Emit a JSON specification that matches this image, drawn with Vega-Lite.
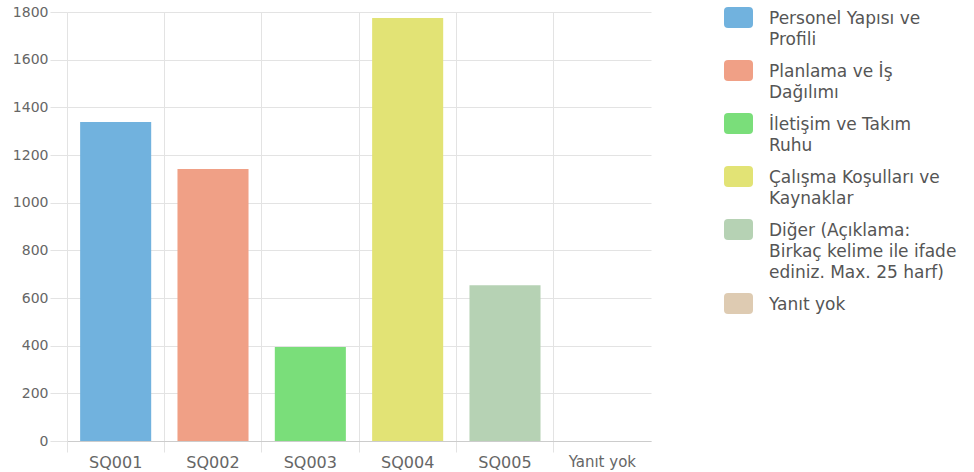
{
  "$schema": "https://vega.github.io/schema/vega-lite/v6.json",
  "width": 584,
  "height": 429,
  "autosize": "none",
  "padding": {"left": 67, "top": 12, "right": 323, "bottom": 31},
  "background": "white",
  "data": {
    "values": [
      {"code": "SQ001", "label": "Personel Yapısı ve Profili", "count": 1338},
      {"code": "SQ002", "label": "Planlama ve İş Dağılımı", "count": 1141},
      {"code": "SQ003", "label": "İletişim ve Takım Ruhu", "count": 394},
      {"code": "SQ004", "label": "Çalışma Koşulları ve Kaynaklar", "count": 1775},
      {"code": "SQ005", "label": "Diğer (Açıklama: Birkaç kelime ile ifade ediniz. Max. 25 harf)", "count": 654},
      {"code": "Yanıt yok", "label": "Yanıt yok", "count": 0}
    ]
  },
  "config": {
    "view": {"stroke": null},
    "font": "DejaVu Sans"
  },
  "mark": {"type": "bar", "width": {"band": 0.73}, "opacity": 1},
  "encoding": {
    "x": {
      "field": "code",
      "type": "nominal",
      "sort": null,
      "scale": {"paddingInner": 0, "paddingOuter": 0},
      "axis": {
        "title": null,
        "labelAngle": 0,
        "bandPosition": 0,
        "labelBandPosition": 0.5,
        "grid": true,
        "gridColor": "#e3e3e3",
        "gridWidth": 1,
        "domainColor": "#cccccc",
        "tickColor": "#e3e3e3",
        "tickSize": 11,
        "labelPadding": 2,
        "labelColor": "#666666",
        "labelFont": "DejaVu Sans",
        "labelFontSize": {"expr": "datum.value == 'Yanıt yok' ? 15 : 16"}
      }
    },
    "y": {
      "field": "count",
      "type": "quantitative",
      "scale": {"domain": [0, 1800], "nice": false},
      "axis": {
        "title": null,
        "format": "d",
        "values": [0, 200, 400, 600, 800, 1000, 1200, 1400, 1600, 1800],
        "domain": false,
        "grid": true,
        "gridColor": "#e3e3e3",
        "tickColor": "#e3e3e3",
        "tickSize": 17,
        "labelPadding": 2,
        "labelColor": "#666666",
        "labelFont": "DejaVu Sans",
        "labelFontSize": 14
      }
    },
    "color": {
      "field": "label",
      "type": "nominal",
      "scale": {
        "domain": ["Personel Yapısı ve Profili", "Planlama ve İş Dağılımı", "İletişim ve Takım Ruhu", "Çalışma Koşulları ve Kaynaklar", "Diğer (Açıklama: Birkaç kelime ile ifade ediniz. Max. 25 harf)", "Yanıt yok"],
        "range": ["#71b2de", "#f0a086", "#7ade7a", "#e2e375", "#b6d2b4", "#decbb2"]
      },
      "legend": {
        "title": null,
        "orient": "none",
        "direction": "vertical",
        "legendX": 657,
        "legendY": -16,
        "padding": 0,
        "symbolType": "M-0.72,-0.241L0.72,-0.241Q1,-0.241 1,0.039L1,0.927Q1,1.207 0.72,1.207L-0.72,1.207Q-1,1.207 -1,0.927L-1,0.039Q-1,-0.241 -0.72,-0.241Z",
        "symbolSize": 841,
        "symbolStrokeWidth": 0,
        "symbolOpacity": 1,
        "labelBaseline": "top",
        "labelOffset": 16,
        "labelLimit": 400,
        "labelFont": "DejaVu Sans",
        "labelFontSize": 17,
        "labelColor": "#555555",
        "rowPadding": 1,
        "labelExpr": "datum.label == 'Personel Yapısı ve Profili' ? ['Personel Yapısı ve', 'Profili'] : datum.label == 'Planlama ve İş Dağılımı' ? ['Planlama ve İş', 'Dağılımı'] : datum.label == 'İletişim ve Takım Ruhu' ? ['İletişim ve Takım', 'Ruhu'] : datum.label == 'Çalışma Koşulları ve Kaynaklar' ? ['Çalışma Koşulları ve', 'Kaynaklar'] : datum.label == 'Yanıt yok' ? 'Yanıt yok' : ['Diğer (Açıklama:', 'Birkaç kelime ile ifade', 'ediniz. Max. 25 harf)']",
        "encode": {"labels": {"update": {"lineHeight": {"value": 21}}}}
      }
    }
  }
}
